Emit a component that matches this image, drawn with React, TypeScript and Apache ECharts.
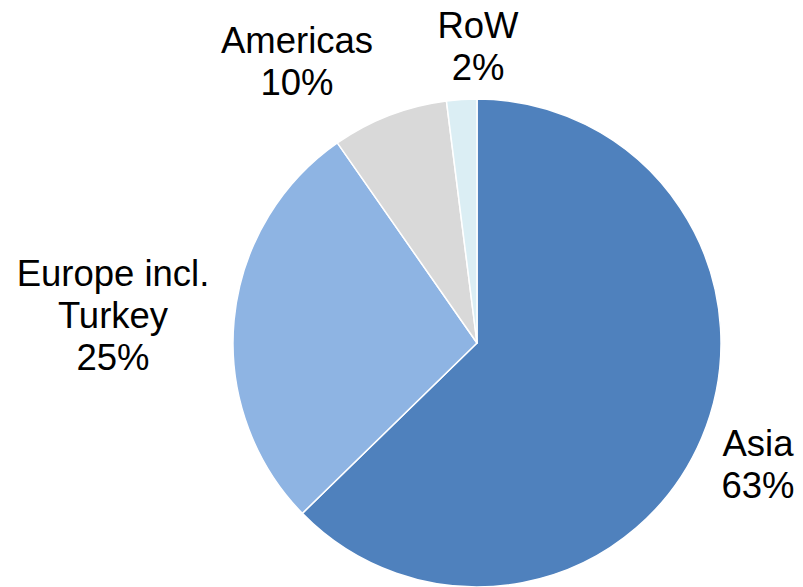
import React, { useEffect, useRef } from "react";
import * as echarts from "echarts";

// Region names and the label texts printed on the chart
const categories = ["Asia", "Europe incl.\nTurkey", "Americas", "RoW"];
const labelTexts = ["63%", "25%", "10%", "2%"];
// Slice sizes as drawn (share of the full circle, %)
const sliceValues = [62.7, 27.6, 7.7, 2.0];
const sliceColors = ["#4F81BD", "#8EB4E3", "#D9D9D9", "#DBEEF4"];
// Label block centres (px)
const labelPositions = [
  [758, 464],
  [113, 315],
  [297, 61],
  [478, 46],
];

export default function App() {
  const ref = useRef<HTMLDivElement>(null);
  useEffect(() => {
    if (!ref.current) return;
    const chart = echarts.init(ref.current, undefined, { renderer: "svg" });
    chart.setOption({
      animation: false,
      backgroundColor: "#ffffff",
      graphic: categories.map((name, i) => ({
        type: "text",
        x: labelPositions[i][0],
        y: labelPositions[i][1],
        silent: true,
        style: {
          text: `${name}\n${labelTexts[i]}`,
          fontFamily: "Liberation Sans, Arial, sans-serif",
          fontSize: 36.5,
          lineHeight: 42,
          fill: "#000000",
          align: "center",
          verticalAlign: "middle",
        },
      })),
      series: [
        {
          type: "pie",
          center: [477, 343],
          radius: [0, 244],
          startAngle: 90,
          clockwise: true,
          data: categories.map((name, i) => ({
            name,
            value: sliceValues[i],
            itemStyle: { color: sliceColors[i] },
          })),
          itemStyle: { borderColor: "#ffffff", borderWidth: 1.5 },
          label: { show: false },
          labelLine: { show: false },
          emphasis: { disabled: true },
        },
      ],
    });
    return () => chart.dispose();
  }, []);
  return (
    <div
      ref={ref}
      style={{ position: "fixed", left: 0, top: 0, width: 803, height: 587 }}
    />
  );
}
